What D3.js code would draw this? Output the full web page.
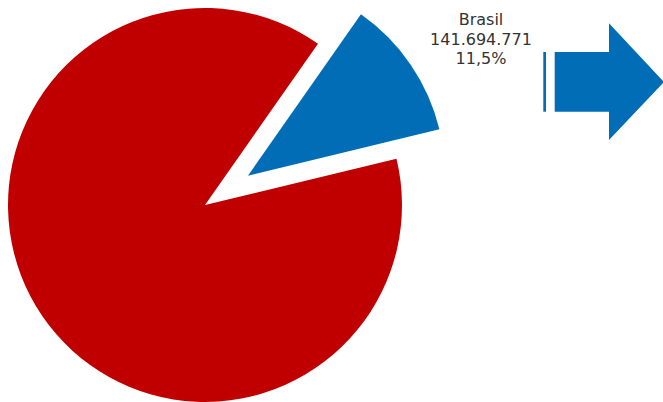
<!DOCTYPE html>
<html>
<head>
<meta charset="utf-8">
<script src="https://cdn.jsdelivr.net/npm/d3@7"></script>
<style>
  body { margin: 0; background: #fff; }
  svg { display: block; }
</style>
</head>
<body>
<div id="chart"></div>
<script>

// data
var categories = ["Brasil", "Outros"];
var values = [141694771, 1090433672];
var percents = ["11,5%", "88,5%"];
var colors = ["#006db6", "#c00000"];

var width = 663,
    height = 402;

var svg = d3.select("#chart")
    .append("svg")
    .attr("width", width)
    .attr("height", height);

// pie geometry
var cx = 205, cy = 205, radius = 197;
var startDeg = 35;
var explode = 52;

var pie = d3.pie()
    .sort(null)
    .startAngle(startDeg * Math.PI / 180)
    .endAngle(startDeg * Math.PI / 180 + 2 * Math.PI);

var arc = d3.arc()
    .innerRadius(0)
    .outerRadius(radius);

var slices = pie(values);

svg.append("g")
    .attr("transform", "translate(" + cx + "," + cy + ")")
    .selectAll("path")
    .data(slices)
    .enter()
    .append("path")
    .attr("d", arc)
    .attr("fill", function(d, i) { return colors[i]; })
    .attr("transform", function(d, i) {
      // pull Brasil slice out of the pie
      if (categories[i] != "Brasil") return null;
      var mid = (d.startAngle + d.endAngle) / 2;
      return "translate(" + (Math.sin(mid) * explode) + "," + (-Math.cos(mid) * explode) + ")";
    });

// label for Brasil
var fmt = d3.formatLocale({ decimal: ",", thousands: ".", grouping: [3], currency: ["", ""] }).format(",");
var label = svg.append("text")
    .attr("x", 481)
    .attr("y", 25)
    .attr("text-anchor", "middle")
    .attr("font-family", "DejaVu Sans, Verdana, sans-serif")
    .attr("font-size", "16px")
    .attr("fill", "#333333");

var lines = [categories[0], fmt(values[0]), percents[0]];
lines.forEach(function(t, i) {
  label.append("tspan")
    .attr("x", 481)
    .attr("dy", i == 0 ? 0 : 19.7)
    .text(t);
});

// arrow on the right
var arrow = svg.append("g").attr("fill", colors[0]);

arrow.append("rect")
    .attr("x", 543.3)
    .attr("y", 52)
    .attr("width", 2.7)
    .attr("height", 59.7);

var path = d3.path();
path.moveTo(554.7, 52);
path.lineTo(609, 52);
path.lineTo(609, 23.3);
path.lineTo(664, 82);
path.lineTo(609, 140);
path.lineTo(609, 111.7);
path.lineTo(554.7, 111.7);
path.closePath();

arrow.append("path")
    .attr("d", path.toString());

</script>
</body>
</html>
